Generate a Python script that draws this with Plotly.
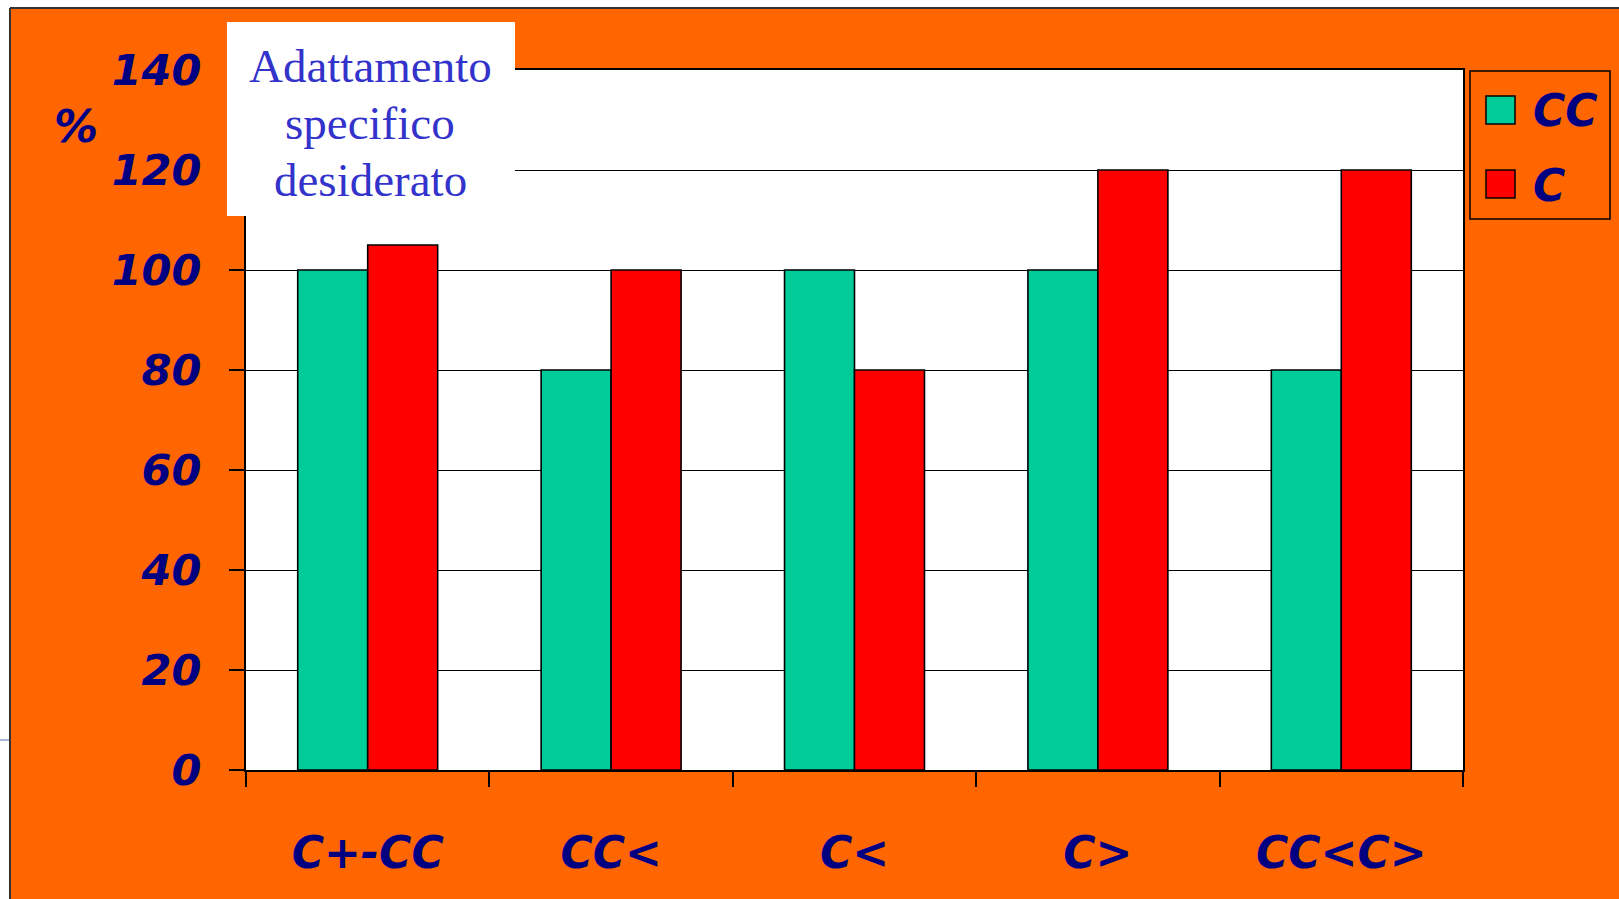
import plotly.graph_objects as go

# ---- data ----
categories = ["C+-CC", "CC<", "C<", "C>", "CC<C>"]
series_names = ["CC", "C"]
cc_values = [100, 80, 100, 100, 80]
c_values = [105, 100, 80, 120, 120]
y_ticks = [0, 20, 40, 60, 80, 100, 120, 140]
note_lines = ["Adattamento", "specifico", "desiderato"]
y_unit = "%"

# ---- layout geometry (pixels) ----
W, H = 1619, 899
L, R, T, B = 246, 1463, 70, 770
PW, PH = R - L, B - T

def px(x):
    return (x - L) / PW

def py(y):
    return (B - y) / PH

GREEN = "#00CC99"
RED = "#FF0000"
NAVY = "#000080"
ORANGE = "#FF6600"

def esc(s):
    return s.replace("<", "&lt;").replace(">", "&gt;")

bold_it = dict(family="DejaVu Sans", weight="bold", style="italic", color=NAVY)

fig = go.Figure()
fig.add_trace(go.Bar(x=categories, y=cc_values, name=series_names[0],
                     marker=dict(color=GREEN, line=dict(color="black", width=1.6))))
fig.add_trace(go.Bar(x=categories, y=c_values, name=series_names[1],
                     marker=dict(color=RED, line=dict(color="black", width=1.6))))

shapes = []
# white margin strips + frame of orange region
shapes.append(dict(type="rect", xref="paper", yref="paper", x0=px(-5), x1=px(10), y0=py(H + 5), y1=py(-5),
                   fillcolor="white", line=dict(width=0), layer="above"))
shapes.append(dict(type="rect", xref="paper", yref="paper", x0=px(-5), x1=px(W + 5), y0=py(8), y1=py(-5),
                   fillcolor="white", line=dict(width=0), layer="above"))
shapes.append(dict(type="line", xref="paper", yref="paper", x0=px(10), x1=px(10), y0=py(8), y1=py(H + 5),
                   line=dict(color="#333333", width=2), layer="above"))
shapes.append(dict(type="line", xref="paper", yref="paper", x0=px(10), x1=px(W + 5), y0=py(8), y1=py(8),
                   line=dict(color="#333333", width=2), layer="above"))
shapes.append(dict(type="line", xref="paper", yref="paper", x0=px(0), x1=px(9), y0=py(740), y1=py(740),
                   line=dict(color="#A8B4D8", width=2), layer="above"))
# note box
shapes.append(dict(type="rect", xref="paper", yref="paper", x0=px(227), x1=px(515), y0=py(216), y1=py(22),
                   fillcolor="white", line=dict(width=0), layer="above"))
# legend box and swatches
shapes.append(dict(type="rect", xref="paper", yref="paper", x0=px(1470), x1=px(1610), y0=py(219), y1=py(71),
                   fillcolor="rgba(0,0,0,0)", line=dict(color="black", width=1.5), layer="above"))
shapes.append(dict(type="rect", xref="paper", yref="paper", x0=px(1486), x1=px(1515), y0=py(124), y1=py(96),
                   fillcolor=GREEN, line=dict(color="black", width=1.5), layer="above"))
shapes.append(dict(type="rect", xref="paper", yref="paper", x0=px(1486), x1=px(1515), y0=py(198), y1=py(170),
                   fillcolor=RED, line=dict(color="black", width=1.5), layer="above"))

annotations = []
for line_txt, yc in zip(note_lines, [66, 123, 180]):
    annotations.append(dict(text=line_txt, xref="paper", yref="paper", x=px(370), y=py(yc),
                            xanchor="center", yanchor="middle", showarrow=False,
                            font=dict(family="Liberation Serif", size=47, color="#3333CC")))
annotations.append(dict(text=y_unit, xref="paper", yref="paper", x=px(76), y=py(127),
                        xanchor="center", yanchor="middle", showarrow=False,
                        font=dict(size=44, **bold_it)))
for name, yc in zip(series_names, [110, 185]):
    annotations.append(dict(text=name, xref="paper", yref="paper", x=px(1531), y=py(yc),
                            xanchor="left", yanchor="middle", showarrow=False,
                            font=dict(size=44, **bold_it)))

fig.update_layout(
    width=W, height=H,
    margin=dict(l=L, r=W - R, t=T, b=H - B, pad=0),
    paper_bgcolor=ORANGE, plot_bgcolor="white",
    barmode="group", bargap=0.425, bargroupgap=0,
    showlegend=False,
    shapes=shapes, annotations=annotations,
    xaxis=dict(type="category", tickvals=categories, ticktext=[esc(c) for c in categories],
               tickson="boundaries", ticks="outside", ticklen=15, tickwidth=2, tickcolor="black",
               showgrid=False, showline=True, linecolor="black", linewidth=2, mirror=True,
               tickfont=dict(size=44, **bold_it), ticklabelstandoff=43),
    yaxis=dict(range=[0, 140], tickvals=y_ticks, ticks="outside", ticklen=15, tickwidth=2, tickcolor="black",
               showgrid=True, gridcolor="black", gridwidth=1.3, zeroline=False,
               showline=True, linecolor="black", linewidth=2, mirror=True,
               tickfont=dict(size=43, **bold_it), ticklabelstandoff=19),
)

fig.write_html("out.html")
